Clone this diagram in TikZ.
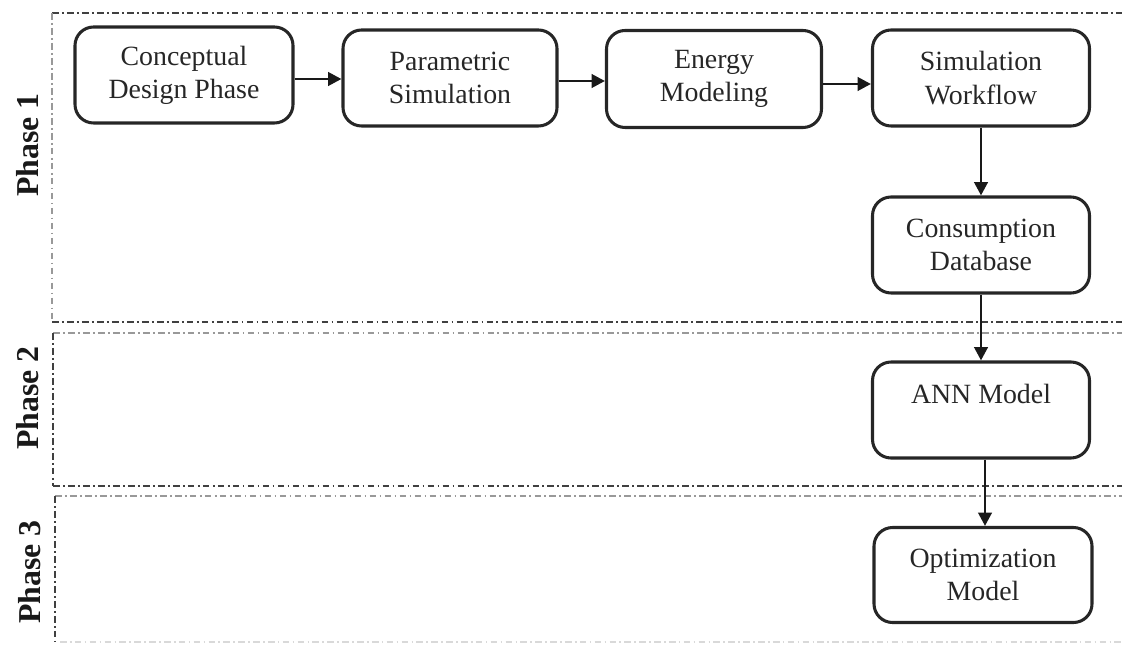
\documentclass[tikz,border=0pt]{standalone}
\usepackage{fontspec}
\setmainfont{Liberation Serif}
\usetikzlibrary{arrows.meta}
\begin{document}
\begin{tikzpicture}[x=0.0265cm,y=-0.0265cm,
  bx/.style={draw=black!85,line width=2.3pt,rounded corners=14pt,align=center,inner sep=0pt,font=\fontsize{21}{25}\selectfont,text=black!85},
  conn/.style={line width=2.2pt,draw=black!90,-{Triangle[length=10pt,width=10pt]}},
  darkdd/.style={line width=1.5pt,draw=black!75,dash pattern=on 5pt off 2.5pt on 1.3pt off 2.5pt},
  graydd/.style={line width=1.5pt,draw=black!40,dash pattern=on 5pt off 2.5pt on 1.3pt off 2.5pt},
  phase/.style={rotate=90,font=\bfseries\fontsize{24}{28}\selectfont,text=black!90}]
\useasboundingbox (0,0) rectangle (1122,647);
% phase frames
\draw[darkdd] (52,13) -- (1122,13);
\draw[graydd] (52,13) -- (52,322);
\draw[darkdd] (52,322) -- (1122,322);
\draw[graydd] (53,333) -- (1122,333);
\draw[darkdd] (53,333) -- (53,486);
\draw[darkdd] (53,486) -- (1122,486);
\draw[graydd] (55,496) -- (1122,496);
\draw[darkdd] (55,496) -- (55,642);
\draw[draw=black!15,line width=1pt,dash pattern=on 5pt off 2.5pt on 1.2pt off 2.5pt] (60,642) -- (1122,642);
% labels
\node[phase] (p1) at (28,145) {Phase 1};
\node[phase] (p2) at (28,398) {Phase 2};
\node[phase] (p3) at (30,572) {Phase 3};
% boxes
\node[bx,minimum width=218*0.0265cm,minimum height=96*0.0265cm] (cdp) at (184,75) {Conceptual\\Design Phase};
\node[bx,minimum width=214*0.0265cm,minimum height=96*0.0265cm] (ps) at (450,78) {Parametric\\Simulation};
\node[bx,minimum width=215*0.0265cm,minimum height=97*0.0265cm] (em) at (714,79) {Energy\\Modeling};
\node[bx,minimum width=217*0.0265cm,minimum height=96*0.0265cm] (sw) at (981,78) {Simulation\\Workflow};
\node[bx,minimum width=217*0.0265cm,minimum height=96*0.0265cm] (cd) at (981,245) {Consumption\\Database};
\node[bx,minimum width=217*0.0265cm,minimum height=96*0.0265cm] (ann) at (981,410) {};
\node[font=\fontsize{21}{25}\selectfont,text=black!85] (annt) at (981,394) {ANN Model};
\node[bx,minimum width=218*0.0265cm,minimum height=95*0.0265cm] (opt) at (983,575) {Optimization\\Model};
% connectors
\draw[conn] (cdp.east |- 0,79) -- (ps.west |- 0,79);
\draw[conn] (ps.east |- 0,81) -- (em.west |- 0,81);
\draw[conn] (em.east |- 0,84) -- (sw.west |- 0,84);
\draw[conn] (sw.south) -- (cd.north);
\draw[conn] (cd.south) -- (ann.north);
\draw[conn] (ann.south -| 985,0) -- (opt.north -| 985,0);
\end{tikzpicture}
\end{document}
